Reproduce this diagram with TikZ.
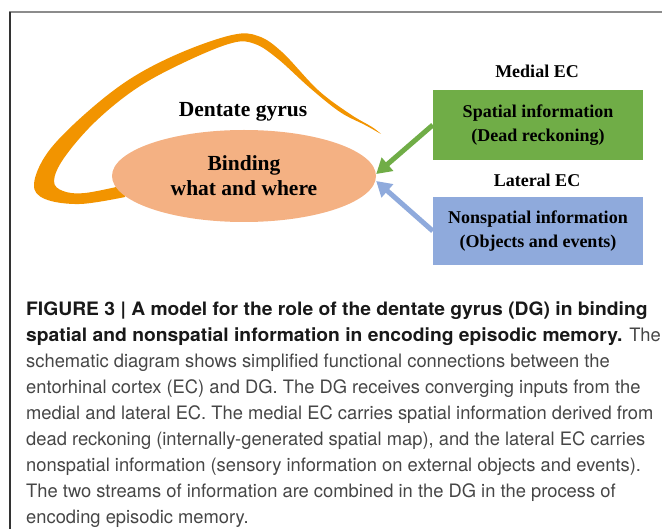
\documentclass[tikz,border=0pt]{standalone}
\usepackage{fontspec}
\setmainfont{Liberation Serif}
\newfontfamily\captionfont[FakeStretch=0.992, BoldFeatures={FakeStretch=1.0425}]{TeX Gyre Heros}
\usepackage{tikz}
\usetikzlibrary{shapes.geometric, arrows.meta}

\definecolor{gyrusorange}{RGB}{242,148,0}
\definecolor{bindingfill}{RGB}{244,177,131}
\definecolor{medialgreen}{RGB}{112,173,71}
\definecolor{lateralblue}{RGB}{143,170,220}
\definecolor{captiongray}{RGB}{70,70,70}

\begin{document}
\begin{tikzpicture}[x=1pt, y=-1pt,
		eclabel/.style={font=\fontsize{18}{20}\selectfont\bfseries},
		ecbox/.style={minimum width=210pt, minimum height=70pt, align=center, font=\fontsize{18}{24}\selectfont\bfseries},
		feed/.style={line width=5pt, -{Triangle[length=15pt, width=17pt]}}]
		\useasboundingbox (0,0) rectangle (662,529);
		
		% frame
		\draw[black!45, line width=2pt] (662,12) -- (9,12);
		\draw[black!80, line width=1.5pt] (10,12) -- (10,529);
		
		% gyrus, a stroke that thins out to the right
		\fill[gyrusorange] plot[smooth, tension=0.6] coordinates {(125,197) (80,204) (45,199) (34,184) (48,152) (85,114) (130,79) (180,53) (232,35) (258,36) (282,52) (318,90) (350,114) (372,127) (381,134)}
			-- plot[smooth, tension=0.6] coordinates {(381,134) (365,125) (340,112) (310,88) (278,59) (255,44) (232,43) (185,62) (137,88) (95,122) (64,158) (54,181) (63,191) (85,193) (125,185)} -- cycle;
		
		\node[ellipse, fill=bindingfill, minimum width=264pt, minimum height=92pt, align=center, font=\fontsize{21.5}{25}\selectfont\bfseries] (DG) at (244,176) {Binding\\what and where};
		\node[anchor=base, font=\fontsize{21.5}{24}\selectfont\bfseries] (Gyrus) at (243,117) {Dentate gyrus};
		
		\node[ecbox, fill=medialgreen] (Spatial)    at (538,125) {Spatial information\\(Dead reckoning)};
		\node[ecbox, fill=lateralblue, minimum height=68pt] (Nonspatial) at (538,231) {Nonspatial information\\(Objects and events)};
		\node[eclabel, anchor=base] (Medial)  at (537,78)  {Medial EC};
		\node[eclabel, anchor=base] (Lateral) at (537,187) {Lateral EC};
		
		\draw[feed, medialgreen] (Spatial.west)    -- ([yshift=2pt]DG.east);
		\draw[feed, lateralblue] (Nonspatial.west) -- ([yshift=-5pt]DG.east);
		
		% caption
		\node[anchor=north west, inner sep=0pt, align=left, text=captiongray, font=\captionfont\fontsize{18.5}{26}\selectfont] (Caption) at (26,302) {%
			\textcolor{black!90}{\bfseries FIGURE 3 | A model for the role of the dentate gyrus (DG) in binding}\\
			\textcolor{black!90}{\bfseries spatial and nonspatial information in encoding episodic memory.} The\\
			schematic diagram shows simplified functional connections between the\\
			entorhinal cortex (EC) and DG. The DG receives converging inputs from the\\
			medial and lateral EC. The medial EC carries spatial information derived from\\
			dead reckoning (internally-generated spatial map), and the lateral EC carries\\
			nonspatial information (sensory information on external objects and events).\\
			The two streams of information are combined in the DG in the process of\\
			encoding episodic memory.};
	\end{tikzpicture}
\end{document}
